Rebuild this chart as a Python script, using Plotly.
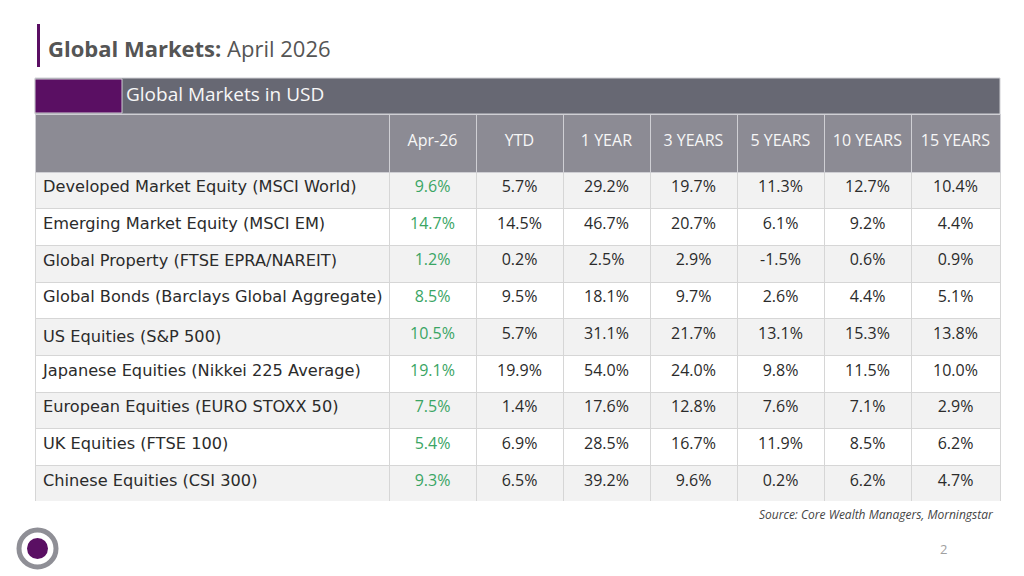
import plotly.graph_objects as go

# dados da tabela
indices = [
    'Developed Market Equity (MSCI World)',
    'Emerging Market Equity (MSCI EM)',
    'Global Property (FTSE EPRA/NAREIT)',
    'Global Bonds (Barclays Global Aggregate)',
    'US Equities (S&P 500)',
    'Japanese Equities (Nikkei 225 Average)',
    'European Equities (EURO STOXX 50)',
    'UK Equities (FTSE 100)',
    'Chinese Equities (CSI 300)',
]
colunas = ['Apr-26', 'YTD', '1 YEAR', '3 YEARS', '5 YEARS', '10 YEARS', '15 YEARS']

apr26 = ['9.6%', '14.7%', '1.2%', '8.5%', '10.5%', '19.1%', '7.5%', '5.4%', '9.3%']
ytd = ['5.7%', '14.5%', '0.2%', '9.5%', '5.7%', '19.9%', '1.4%', '6.9%', '6.5%']
um_ano = ['29.2%', '46.7%', '2.5%', '18.1%', '31.1%', '54.0%', '17.6%', '28.5%', '39.2%']
tres_anos = ['19.7%', '20.7%', '2.9%', '9.7%', '21.7%', '24.0%', '12.8%', '16.7%', '9.6%']
cinco_anos = ['11.3%', '6.1%', '-1.5%', '2.6%', '13.1%', '9.8%', '7.6%', '11.9%', '0.2%']
dez_anos = ['12.7%', '9.2%', '0.6%', '4.4%', '15.3%', '11.5%', '7.1%', '8.5%', '6.2%']
quinze_anos = ['10.4%', '4.4%', '0.9%', '5.1%', '13.8%', '10.0%', '2.9%', '6.2%', '4.7%']

roxo = '#5a0f63'
fonte = 'Open Sans'
fonte_rotulos = 'DejaVu Sans'
W, H = 1024, 576
OFF = 8  # margem padrão do body na página

# cores alternadas das linhas
cores_linhas = ['#f2f2f2' if i % 2 == 0 else '#ffffff' for i in range(len(indices))]
n_cols = len(colunas) + 1

# rótulos com espaço não separável para não quebrar a linha
rotulos = [r.replace(' ', '\u00a0') for r in indices]

# cabeçalho sem quebra de linha, com uma linha pequena em branco para descer o texto
cabecalho = [''] + ['&nbsp;<br><span style="font-size:16px">' + c.replace(' ', '&nbsp;') + '</span>'
                    for c in colunas]


def px_x(v):
    return (v - OFF) / W


def px_y(v):
    return 1 - (v - OFF) / H


fig = go.Figure()

fig.add_trace(go.Table(
    domain=dict(x=[px_x(35), px_x(1000)], y=[px_y(502), px_y(114)]),
    columnwidth=[354, 87, 87, 87, 87, 87, 87, 89],
    header=dict(
        values=cabecalho,
        fill_color='#8c8b94',
        line_color='#cfcfd4',
        align='center',
        height=58,
        font=dict(family=fonte, size=10, color='#f7f7f7'),
    ),
    cells=dict(
        values=[rotulos, apr26, ytd, um_ano, tres_anos, cinco_anos, dez_anos, quinze_anos],
        fill_color=[cores_linhas] * n_cols,
        line_color='#d6d6d6',
        align=['left'] + ['center'] * (n_cols - 1),
        height=36.7,
        font=dict(family=[fonte_rotulos] + [fonte] * (n_cols - 1),
                  size=[16.2] + [16] * (n_cols - 1),
                  color=['#2b2b2b', '#3aa564'] + ['#2b2b2b'] * (n_cols - 2)),
    ),
))

# barra do título da tabela
fig.add_shape(type='rect', xref='paper', yref='paper',
              x0=px_x(35), x1=px_x(1000), y0=px_y(114), y1=px_y(78),
              fillcolor='#676873', line=dict(color='#cfcfd4', width=1), layer='below')
fig.add_shape(type='rect', xref='paper', yref='paper',
              x0=px_x(35), x1=px_x(122), y0=px_y(113), y1=px_y(79),
              fillcolor=roxo, line=dict(color='#cfcfd4', width=1))
fig.add_annotation(text='Global Markets in USD', xref='paper', yref='paper',
                   x=px_x(124), y=px_y(94), xanchor='left', yanchor='middle',
                   showarrow=False, font=dict(family=fonte, size=19, color='#f7f7f7'))

# título da página
fig.add_shape(type='rect', xref='paper', yref='paper',
              x0=px_x(37), x1=px_x(40), y0=px_y(67), y1=px_y(24),
              fillcolor=roxo, line_width=0)
fig.add_annotation(text='<b>Global Markets:</b> April 2026', xref='paper', yref='paper',
                   x=px_x(46), y=px_y(48), xanchor='left', yanchor='middle',
                   showarrow=False, font=dict(family=fonte, size=22, color='#555555'))

# fonte dos dados
fig.add_annotation(text='<i>Source: Core Wealth Managers, Morningstar</i>', xref='paper', yref='paper',
                   x=px_x(996), y=px_y(514), xanchor='right', yanchor='middle',
                   showarrow=False, font=dict(family=fonte, size=12, color='#444444'))

# número da página
fig.add_annotation(text='2', xref='paper', yref='paper',
                   x=px_x(943), y=px_y(549), xanchor='center', yanchor='middle',
                   showarrow=False, font=dict(family=fonte, size=13, color='#a0a0a0'))

# logotipo
fig.add_shape(type='circle', xref='paper', yref='paper',
              x0=px_x(19), x1=px_x(56), y0=px_y(567), y1=px_y(530),
              fillcolor='white', line=dict(color='#8f8f96', width=5))
fig.add_shape(type='circle', xref='paper', yref='paper',
              x0=px_x(27), x1=px_x(48), y0=px_y(559), y1=px_y(538),
              fillcolor=roxo, line_width=0)

fig.update_layout(
    width=W, height=H,
    margin=dict(l=0, r=0, t=0, b=0),
    paper_bgcolor='white',
    plot_bgcolor='white',
)

fig.write_html('out.html')
